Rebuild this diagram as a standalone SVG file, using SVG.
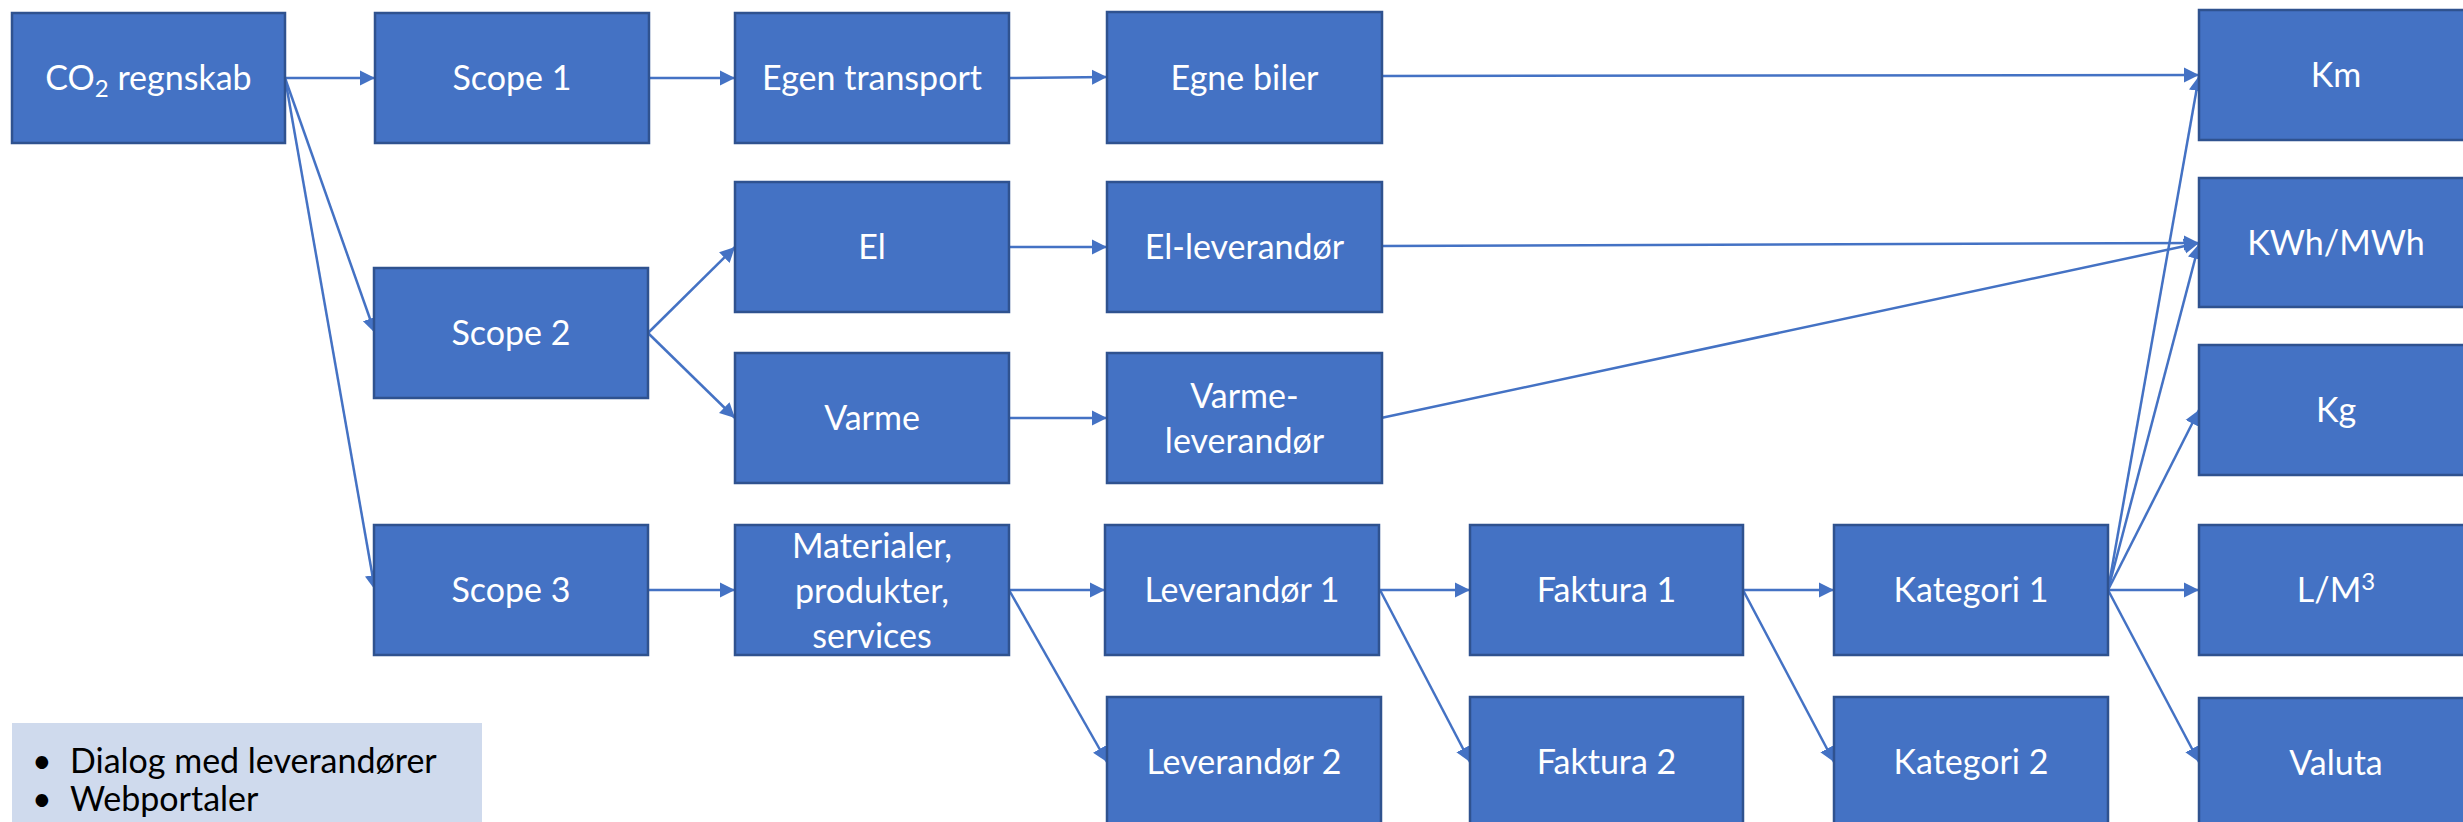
<svg xmlns="http://www.w3.org/2000/svg" width="2463" height="822" viewBox="0 0 2463 822">
<style>
.box{fill:#4472C4;stroke:#2F528F;stroke-width:2.5}
.t{fill:#FFFFFF;font-family:Lato,"Open Sans","Liberation Sans",sans-serif;font-size:34px;text-anchor:middle}
.c{fill:none;stroke:#4472C4;stroke-width:2.5}
.note{fill:#CFDAED}
.nt{fill:#000000;font-family:Lato,"Open Sans","Liberation Sans",sans-serif;font-size:34px}
</style>
<defs>
<marker id="ah" markerUnits="userSpaceOnUse" markerWidth="16" markerHeight="16" refX="15" refY="8" orient="auto">
<path d="M0,0.5 L15,8 L0,15.5 z" fill="#4472C4"/>
</marker>
</defs>
<rect width="2463" height="822" fill="#FFFFFF"/>
<g id="connectors">
<line class="c" marker-end="url(#ah)" x1="285" y1="78" x2="375" y2="78"/>
<line class="c" marker-end="url(#ah)" x1="285" y1="78" x2="375" y2="333"/>
<line class="c" marker-end="url(#ah)" x1="285" y1="78" x2="375" y2="590"/>
<line class="c" marker-end="url(#ah)" x1="649" y1="78" x2="735" y2="78"/>
<line class="c" marker-end="url(#ah)" x1="1009" y1="78" x2="1107" y2="77"/>
<line class="c" marker-end="url(#ah)" x1="1381" y1="76" x2="2199" y2="75"/>
<line class="c" marker-end="url(#ah)" x1="648" y1="333" x2="735" y2="247"/>
<line class="c" marker-end="url(#ah)" x1="648" y1="333" x2="735" y2="418"/>
<line class="c" marker-end="url(#ah)" x1="1009" y1="247" x2="1107" y2="247"/>
<line class="c" marker-end="url(#ah)" x1="1381" y1="246" x2="2199" y2="243"/>
<line class="c" marker-end="url(#ah)" x1="1009" y1="418" x2="1107" y2="418"/>
<line class="c" marker-end="url(#ah)" x1="1381" y1="418" x2="2199" y2="243"/>
<line class="c" marker-end="url(#ah)" x1="649" y1="590" x2="735" y2="590"/>
<line class="c" marker-end="url(#ah)" x1="1009" y1="590" x2="1105" y2="590"/>
<line class="c" marker-end="url(#ah)" x1="1009" y1="590" x2="1107" y2="762"/>
<line class="c" marker-end="url(#ah)" x1="1380" y1="590" x2="1470" y2="590"/>
<line class="c" marker-end="url(#ah)" x1="1380" y1="590" x2="1470" y2="762"/>
<line class="c" marker-end="url(#ah)" x1="1743" y1="590" x2="1834" y2="590"/>
<line class="c" marker-end="url(#ah)" x1="1743" y1="590" x2="1834" y2="762"/>
<line class="c" marker-end="url(#ah)" x1="2108" y1="590" x2="2199" y2="76"/>
<line class="c" marker-end="url(#ah)" x1="2108" y1="590" x2="2199" y2="244"/>
<line class="c" marker-end="url(#ah)" x1="2108" y1="590" x2="2199" y2="410"/>
<line class="c" marker-end="url(#ah)" x1="2108" y1="590" x2="2199" y2="590"/>
<line class="c" marker-end="url(#ah)" x1="2108" y1="590" x2="2199" y2="762"/>
</g>
<g id="co2"><rect class="box" x="12" y="13" width="273" height="130"/><text class="t" x="148.5" y="90">CO<tspan font-size="24" dy="7">2</tspan><tspan dy="-7"> regnskab</tspan></text></g>
<g id="scope1"><rect class="box" x="375" y="13" width="274" height="130"/><text class="t" x="512" y="90">Scope 1</text></g>
<g id="scope2"><rect class="box" x="374" y="268" width="274" height="130"/><text class="t" x="511" y="345">Scope 2</text></g>
<g id="scope3"><rect class="box" x="374" y="525" width="274" height="130"/><text class="t" x="511" y="602">Scope 3</text></g>
<g id="egen-transport"><rect class="box" x="735" y="13" width="274" height="130"/><text class="t" x="872" y="90">Egen transport</text></g>
<g id="el"><rect class="box" x="735" y="182" width="274" height="130"/><text class="t" x="872" y="259">El</text></g>
<g id="varme"><rect class="box" x="735" y="353" width="274" height="130"/><text class="t" x="872" y="430">Varme</text></g>
<g id="materialer"><rect class="box" x="735" y="525" width="274" height="130"/><text class="t" x="872" y="558">Materialer,</text><text class="t" x="872" y="603">produkter,</text><text class="t" x="872" y="648">services</text></g>
<g id="egne-biler"><rect class="box" x="1107" y="12" width="275" height="131"/><text class="t" x="1244.5" y="90">Egne biler</text></g>
<g id="el-leverandor"><rect class="box" x="1107" y="182" width="275" height="130"/><text class="t" x="1244.5" y="259">El-leverandør</text></g>
<g id="varme-leverandor"><rect class="box" x="1107" y="353" width="275" height="130"/><text class="t" x="1244.5" y="408">Varme-</text><text class="t" x="1244.5" y="453">leverandør</text></g>
<g id="leverandor1"><rect class="box" x="1105" y="525" width="274" height="130"/><text class="t" x="1242" y="602">Leverandør 1</text></g>
<g id="leverandor2"><rect class="box" x="1107" y="697" width="274" height="140"/><text class="t" x="1244" y="774">Leverandør 2</text></g>
<g id="faktura1"><rect class="box" x="1470" y="525" width="273" height="130"/><text class="t" x="1606.5" y="602">Faktura 1</text></g>
<g id="faktura2"><rect class="box" x="1470" y="697" width="273" height="140"/><text class="t" x="1606.5" y="774">Faktura 2</text></g>
<g id="kategori1"><rect class="box" x="1834" y="525" width="274" height="130"/><text class="t" x="1971" y="602">Kategori 1</text></g>
<g id="kategori2"><rect class="box" x="1834" y="697" width="274" height="140"/><text class="t" x="1971" y="774">Kategori 2</text></g>
<g id="km"><rect class="box" x="2199" y="10" width="274" height="130"/><text class="t" x="2336" y="87">Km</text></g>
<g id="kwh"><rect class="box" x="2199" y="178" width="274" height="129"/><text class="t" x="2336" y="255">KWh/MWh</text></g>
<g id="kg"><rect class="box" x="2199" y="345" width="274" height="130"/><text class="t" x="2336" y="422">Kg</text></g>
<g id="lm3"><rect class="box" x="2199" y="525" width="274" height="130"/><text class="t" x="2336" y="602">L/M<tspan font-size="24" dy="-12">3</tspan></text></g>
<g id="valuta"><rect class="box" x="2199" y="698" width="274" height="140"/><text class="t" x="2336" y="775">Valuta</text></g>
<g id="note">
<rect class="note" x="12" y="723" width="470" height="110"/>
<text class="nt" x="32" y="773">•</text><text class="nt" x="70" y="773">Dialog med leverandører</text>
<text class="nt" x="32" y="811">•</text><text class="nt" x="70" y="811">Webportaler</text>
</g>
</svg>
